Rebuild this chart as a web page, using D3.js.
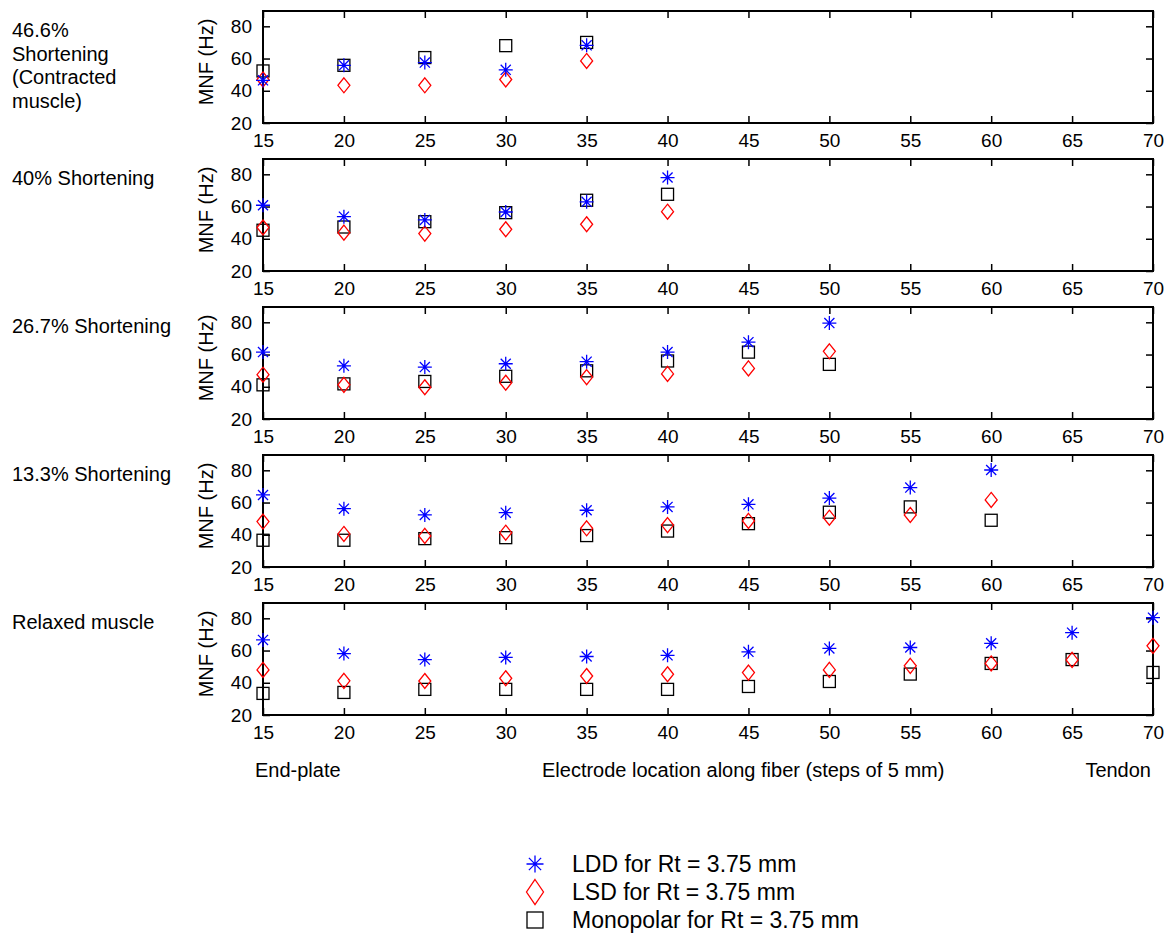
<!DOCTYPE html>
<html>
<head>
<meta charset="utf-8">
<script src="https://cdn.jsdelivr.net/npm/d3@7"></script>
<style>
  body { margin: 0; background: #fff; }
  svg { font-family: "Liberation Sans", Arial, Helvetica, sans-serif; }
  .axis text { font-size: 19px; fill: #000; }
  .axis line { stroke: #000; stroke-width: 1.5; }
  .axis path { display: none; }
  .lbl { font-size: 20px; fill: #000; }
</style>
</head>
<body>
<div id="vis"></div>
<script>
// electrode positions (mm)
const positions = [15, 20, 25, 30, 35, 40, 45, 50, 55, 60, 65, 70];
const xTicks = [15, 20, 25, 30, 35, 40, 45, 50, 55, 60, 65, 70];
const yTicks = [20, 40, 60, 80];

const panelNames = [
    ["46.6%", "Shortening", "(Contracted", "muscle)"],
    ["40% Shortening"],
    ["26.7% Shortening"],
    ["13.3% Shortening"],
    ["Relaxed muscle"]
];

// MNF values (Hz), one list per panel
const ldd = [
    [46.5, 55.8, 57.5, 53.0, 68.2],
    [60.8, 53.7, 51.7, 56.6, 62.9, 78.0],
    [61.5, 53.0, 52.2, 54.3, 55.6, 61.5, 67.7, 79.5],
    [64.7, 56.2, 52.3, 53.7, 55.2, 57.3, 58.9, 62.8, 69.3, 80.2],
    [66.6, 58.1, 54.4, 55.7, 56.3, 57.0, 59.2, 61.3, 61.9, 64.5, 71.1, 80.4]
];
const lsd = [
    [47.0, 43.4, 43.4, 47.0, 58.5],
    [47.0, 43.8, 43.2, 45.9, 49.0, 56.8],
    [47.5, 41.2, 39.7, 42.5, 46.0, 48.0, 51.4, 62.0],
    [48.2, 40.5, 39.3, 41.3, 44.0, 46.0, 48.6, 50.6, 52.3, 61.6],
    [48.0, 41.2, 41.1, 42.8, 44.2, 45.3, 46.3, 48.0, 50.5, 52.0, 54.2, 62.9]
];
const mono = [
    [52.3, 55.8, 60.6, 68.0, 70.0],
    [45.3, 47.3, 50.6, 56.2, 63.9, 67.6],
    [41.2, 41.8, 43.3, 46.5, 49.9, 56.0, 61.5, 53.9],
    [36.6, 36.6, 37.6, 38.2, 39.5, 42.3, 46.9, 54.0, 57.3, 49.0],
    [33.4, 34.0, 35.9, 35.9, 35.9, 35.9, 37.7, 40.8, 45.4, 52.0, 54.4, 46.4]
];

const legendLabels = ["LDD for Rt = 3.75 mm", "LSD for Rt = 3.75 mm", "Monopolar for Rt = 3.75 mm"];

const frame_width = 1173;
const frame_height = 936;
const plot = {left: 263, right: 1153, top: 11, height: 112, step: 148};

const starPath = s => `M${-s},0H${s}M0,${-s}V${s}M${-s*0.72},${-s*0.72}L${s*0.72},${s*0.72}M${-s*0.72},${s*0.72}L${s*0.72},${-s*0.72}`;
const diamondPath = (w, h) => `M0,${-h}L${w},0L0,${h}L${-w},0Z`;

const svg = d3.select("#vis")
    .append("svg")
        .attr("width", frame_width)
        .attr("height", frame_height);

const x_scale = d3.scaleLinear()
    .domain([15, 70])
    .range([plot.left, plot.right]);

panelNames.forEach((names, i) => {
    const top = plot.top + i * plot.step;
    const bottom = top + plot.height;

    const y_scale = d3.scaleLinear()
        .domain([20, 89.5])
        .range([bottom, top]);

    const g = svg.append("g");

    // inward ticks on all four sides
    g.append("g")
        .attr("class", "axis")
        .attr("transform", "translate(0," + bottom + ")")
        .call(d3.axisBottom(x_scale).tickValues(xTicks).tickSize(-7).tickPadding(10.5));
    g.append("g")
        .attr("class", "axis")
        .attr("transform", "translate(0," + top + ")")
        .call(d3.axisTop(x_scale).tickValues(xTicks).tickSize(-7).tickFormat(""));
    g.append("g")
        .attr("class", "axis")
        .attr("transform", "translate(" + plot.left + ",0)")
        .call(d3.axisLeft(y_scale).tickValues(yTicks).tickSize(-7).tickPadding(11));
    g.append("g")
        .attr("class", "axis")
        .attr("transform", "translate(" + plot.right + ",0)")
        .call(d3.axisRight(y_scale).tickValues(yTicks).tickSize(-7).tickFormat(""));

    g.append("rect")
        .attr("x", plot.left)
        .attr("y", top)
        .attr("width", plot.right - plot.left)
        .attr("height", plot.height)
        .attr("fill", "none")
        .attr("stroke", "#000")
        .attr("stroke-width", 2);

    g.append("text")
        .attr("class", "lbl")
        .attr("text-anchor", "middle")
        .attr("transform", "translate(213," + (top + plot.height / 2 - 5) + ") rotate(-90)")
        .text("MNF (Hz)");

    names.forEach((t, j) => {
        g.append("text")
            .attr("class", "lbl")
            .attr("x", 12)
            .attr("y", top + 26 + j * 23.5)
            .text(t);
    });

    // monopolar squares
    g.selectAll(".sq")
        .data(mono[i])
        .enter()
        .append("rect")
            .attr("x", (d, k) => x_scale(positions[k]) - 6)
            .attr("y", d => y_scale(d) - 6)
            .attr("width", 12)
            .attr("height", 12)
            .attr("fill", "none")
            .attr("stroke", "#000")
            .attr("stroke-width", 1.3);

    // LSD diamonds
    g.selectAll(".dm")
        .data(lsd[i])
        .enter()
        .append("path")
            .attr("d", diamondPath(6, 7.5))
            .attr("transform", (d, k) => "translate(" + x_scale(positions[k]) + "," + y_scale(d) + ")")
            .attr("fill", "none")
            .attr("stroke", "#ff0000")
            .attr("stroke-width", 1.3);

    // LDD asterisks
    g.selectAll(".st")
        .data(ldd[i])
        .enter()
        .append("path")
            .attr("d", starPath(7))
            .attr("transform", (d, k) => "translate(" + x_scale(positions[k]) + "," + y_scale(d) + ")")
            .attr("fill", "none")
            .attr("stroke", "#0000ff")
            .attr("stroke-width", 1.3);
});

// bottom annotations
svg.append("text").attr("class", "lbl").attr("x", 255).attr("y", 777).text("End-plate");
svg.append("text").attr("class", "lbl").attr("x", 542).attr("y", 777).text("Electrode location along fiber (steps of 5 mm)");
svg.append("text").attr("class", "lbl").attr("x", 1151).attr("y", 777).attr("text-anchor", "end").text("Tendon");

// legend
const legendY = [872, 900, 928];
legendLabels.forEach((t, i) => {
    const cy = legendY[i] - 8;
    if (i === 0) {
        svg.append("path").attr("d", starPath(8.5))
            .attr("transform", "translate(535," + cy + ")")
            .attr("fill", "none").attr("stroke", "#0000ff").attr("stroke-width", 1.3);
    } else if (i === 1) {
        svg.append("path").attr("d", diamondPath(8.5, 12.5))
            .attr("transform", "translate(535," + cy + ")")
            .attr("fill", "none").attr("stroke", "#ff0000").attr("stroke-width", 1.3);
    } else {
        svg.append("rect").attr("x", 527).attr("y", cy - 8).attr("width", 16).attr("height", 16)
            .attr("fill", "none").attr("stroke", "#000").attr("stroke-width", 1.3);
    }
    svg.append("text")
        .attr("x", 572)
        .attr("y", legendY[i])
        .attr("font-size", "23px")
        .text(t);
});
</script>
</body>
</html>
